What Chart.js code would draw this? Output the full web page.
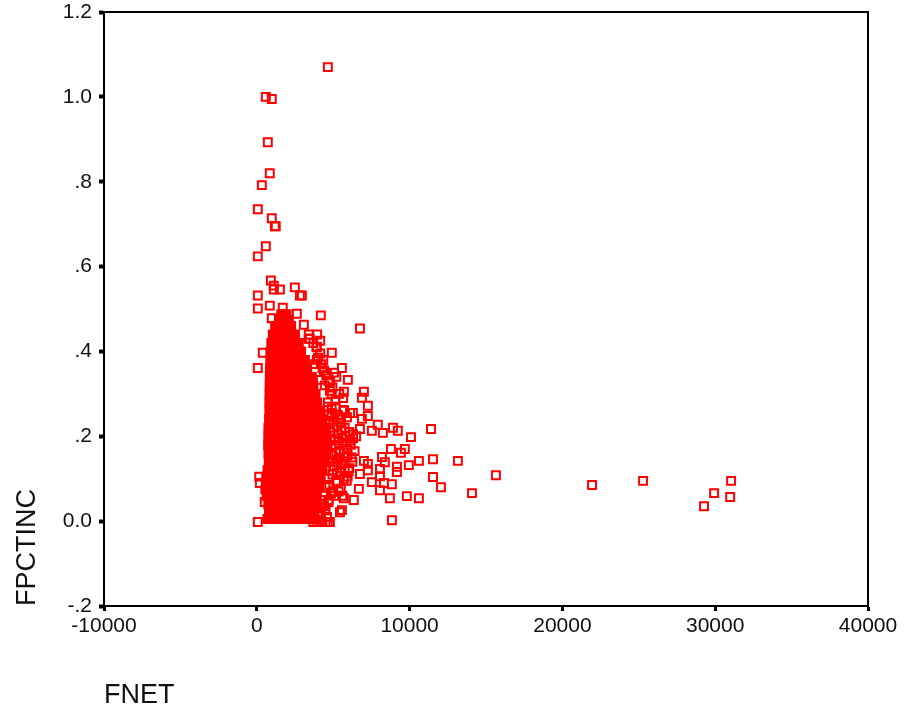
<!DOCTYPE html>
<html><head><meta charset="utf-8">
<style>html,body{margin:0;padding:0;background:#fff}canvas{display:block}</style>
<script src="https://cdn.jsdelivr.net/npm/chart.js@4"></script>
</head><body><div style="width:904px;height:712px"><canvas id="c" width="904" height="712"></canvas></div>
<script>
const xTicks=[-10000,0,10000,20000,30000,40000];
const yTicks=[-0.2,0,0.2,0.4,0.6,0.8,1.0,1.2];
const yLabels=['-.2','0.0','.2','.4','.6','.8','1.0','1.2'];
// scattered individual cases
const outlierNet=[4650,590,980,720,850,330,65,980,1240,1180,590,65,920,1110,1110,1510,2490,2820,2950,65,65,850,1700,2620,4190,6750,980,3080,3400,3470,3930,4910,390,3930,5570,65,4580,5960,4190,5700,7010,6880,4780,7270,7270,5700,6290,6880,7920,8910,9230,11400,7530,8250,10090,6750,8780,9690,9430,8190,7010,8380,10610,9950,9170,9170,11530,13160,7270,7270,8060,8060,6750,7530,8840,8320,8060,6680,5890,11530,12050,9820,10610,8710,6350,5700,5570,5440,8840,65,14080,15650,21940,25280,29270,29930,30980,31040,160,200,5200,5400];
const outlierPct=[1.07,1.0,0.995,0.893,0.82,0.792,0.735,0.714,0.695,0.695,0.648,0.624,0.567,0.555,0.546,0.546,0.551,0.532,0.532,0.532,0.501,0.508,0.503,0.489,0.485,0.454,0.478,0.463,0.44,0.43,0.411,0.397,0.397,0.38,0.361,0.361,0.345,0.333,0.333,0.305,0.305,0.291,0.307,0.272,0.248,0.262,0.255,0.241,0.227,0.22,0.213,0.217,0.213,0.208,0.198,0.217,0.17,0.17,0.161,0.151,0.142,0.139,0.142,0.132,0.128,0.116,0.146,0.142,0.135,0.12,0.123,0.106,0.111,0.092,0.087,0.09,0.073,0.076,0.095,0.104,0.08,0.059,0.054,0.054,0.05,0.054,0.026,0.021,0.002,-0.002,0.066,0.108,0.085,0.095,0.035,0.066,0.057,0.095,0.105,0.09,0.14,0.165];
// thinner fringe to the right of the solid mass
const fringeNet=[4700,4900,5100,5300,5500,5700,5900,6100,6300,4800,5050,5300,5550,5800,6050,6300,6500,4900,5150,5400,5650,5900,6150,6400,4800,5050,5300,5550,5800,6050,6250,4700,4950,5200,5450,5700,5950,4500,4750,5000,5250,5500,4650,4900,5150,5400,5650,4450,4700,4950,5200,4300,4550,4800,5050,4200,4450,4700,4950,4100,4300,4500,4700,4000,4200,4400,4600,3800,4000,4200,4400,3900,4150,4350,3700,3900,4100,4300,4500,4650,4780,3400,3700,3950,4150,600,650,700,560,520,4750,5000,5250,5500,5750,4850,5100,5350,5600,5850,6100,4950,5200,5450,5700,5950,6200,5000,5250,5500,5750,6000,4850,5100,5350,5600,4650,4900,5150];
const fringePct=[0.25,0.255,0.245,0.25,0.24,0.26,0.245,0.255,0.205,0.21,0.22,0.205,0.215,0.2,0.21,0.195,0.2,0.175,0.18,0.165,0.185,0.17,0.18,0.165,0.14,0.13,0.145,0.135,0.15,0.125,0.14,0.1,0.11,0.095,0.115,0.1,0.105,0.08,0.085,0.07,0.09,0.075,0.28,0.3,0.285,0.3,0.29,0.32,0.33,0.315,0.34,0.36,0.345,0.33,0.35,0.05,0.06,0.045,0.07,0.03,0.04,0.025,0.05,0.015,0.02,0.035,0.01,0.37,0.385,0.37,0.355,0.41,0.395,0.38,-0.002,-0.002,-0.002,-0.002,-0.002,-0.002,-0.002,0.43,0.42,0.44,0.425,0.09,0.105,0.06,0.075,0.045,0.23,0.235,0.225,0.23,0.22,0.19,0.195,0.19,0.195,0.185,0.19,0.155,0.16,0.15,0.16,0.155,0.15,0.12,0.115,0.125,0.12,0.118,0.065,0.06,0.07,0.06,0.27,0.265,0.27];
// solid mass: fractions read row by row, each with the FNET readings of that band
const massPct=[0.005,0.02,0.04,0.06,0.08,0.10,0.12,0.14,0.16,0.18,0.20,0.22,0.24,0.26,0.28,0.30,0.32,0.34,0.36,0.38,0.40,0.42,0.44,0.46,0.475,0.488];
const massNet=[
[700,1150,1600,2100,2550,3000,3450,3800],
[800,1250,1700,2200,2650,3100,3550,3750],
[750,1200,1650,2150,2600,3050,3500,3850],
[650,1100,1600,2050,2500,3000,3450,3900],
[600,1050,1500,2000,2450,2950,3400,3850,4100],
[620,1100,1550,2050,2500,3000,3450,3900,4150],
[700,1150,1650,2100,2600,3050,3500,3950,4300],
[780,1250,1700,2200,2650,3150,3600,4050,4450],
[760,1200,1700,2150,2650,3100,3600,4050,4550],
[740,1200,1650,2150,2600,3100,3550,4050,4600],
[750,1200,1700,2150,2650,3100,3600,4050,4550],
[760,1250,1700,2200,2650,3150,3600,4100,4450],
[800,1250,1750,2200,2700,3150,3650,4100,4300],
[820,1300,1750,2250,2700,3200,3650,4150],
[820,1300,1750,2250,2700,3150,3600,3950],
[830,1300,1800,2250,2700,3150,3600,3850],
[840,1300,1800,2250,2700,3150,3500,3700],
[850,1300,1750,2200,2650,3100,3450,3600],
[860,1300,1750,2200,2650,3050,3300],
[880,1300,1750,2200,2600,3000,3150],
[900,1350,1800,2200,2600,2900],
[950,1350,1800,2200,2550,2750],
[1050,1450,1850,2200,2500],
[1200,1600,1950,2250],
[1450,1800,2100],
[1600,1950]
];
const massPoints=massPct.flatMap((p,i)=>massNet[i].map(n=>({x:n,y:p})));
const outlierPoints=outlierNet.map((n,i)=>({x:n,y:outlierPct[i]}));
const fringePoints=fringeNet.map((n,i)=>({x:n,y:fringePct[i]}));
const RED='#ff0000',INK='#000000';
const fontName='"Liberation Sans", Arial, sans-serif';
const mark={pointStyle:'rect',pointRadius:5.6,pointHoverRadius:5.6,pointBorderWidth:2,pointBorderColor:RED,showLine:false};
function noPad(s){s.paddingTop=0;s.paddingBottom=0;s.paddingLeft=0;s.paddingRight=0;}
function fixW(w){return s=>{s.width=w;noPad(s);};}
function fixH(h){return s=>{s.height=h;noPad(s);};}
new Chart(document.getElementById('c'),{
 type:'scatter',
 data:{datasets:[
  {data:massPoints,...mark,pointBackgroundColor:RED},
  {data:fringePoints,...mark,pointBackgroundColor:'rgba(0,0,0,0)'},
  {data:outlierPoints,...mark,pointBackgroundColor:'rgba(0,0,0,0)'}
 ]},
 options:{
  responsive:false,animation:false,devicePixelRatio:1,
  layout:{padding:{left:0,right:36,top:12,bottom:0}},
  plugins:{legend:{display:false},tooltip:{enabled:false}},
  scales:{
   x:{type:'linear',min:-10000,max:40000,position:'bottom',afterFit:fixH(106),
     afterBuildTicks:s=>{s.ticks=xTicks.map(v=>({value:v}));},
     grid:{drawOnChartArea:false,tickLength:5,tickWidth:3,tickColor:INK},
     border:{color:INK,width:2},
     ticks:{color:'#111',font:{family:fontName,size:21},maxRotation:0,padding:3,autoSkip:false,callback:v=>String(v)},
     title:{display:true,text:'FNET',align:'start',color:'#111',font:{family:fontName,size:27},padding:{top:32,bottom:0}}},
   y:{type:'linear',min:-0.2,max:1.2,position:'left',afterFit:fixW(104),
     afterBuildTicks:s=>{s.ticks=yTicks.map(v=>({value:v}));},
     grid:{drawOnChartArea:false,tickLength:5,tickWidth:4,tickColor:INK},
     border:{color:INK,width:2},
     ticks:{color:'#111',font:{family:fontName,size:21},padding:7,autoSkip:false,
       callback:v=>{const i=yTicks.findIndex(t=>Math.abs(t-v)<1e-6);return i<0?'':yLabels[i];}},
     title:{display:true,text:'FPCTINC',align:'start',color:'#111',font:{family:fontName,size:27},padding:{top:11,bottom:0}}},
   xTop:{type:'linear',min:-10000,max:40000,position:'top',afterFit:fixH(0),
     grid:{display:false},border:{color:INK,width:2},ticks:{display:false}},
   yRight:{type:'linear',min:-0.2,max:1.2,position:'right',afterFit:fixW(0),
     grid:{display:false},border:{color:INK,width:2},ticks:{display:false}}
  }
 }
});
</script></body></html>
